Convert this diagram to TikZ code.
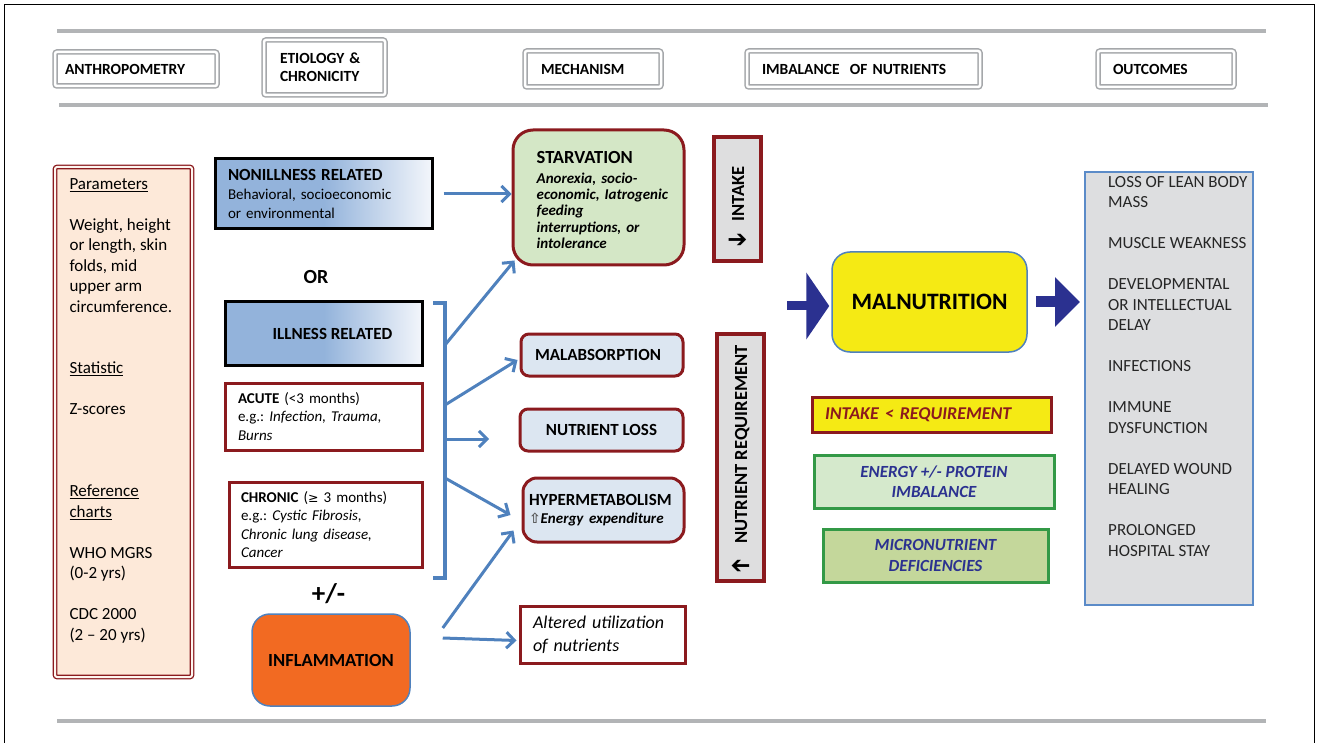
\documentclass[tikz,border=0pt]{standalone}
\usepackage{fontspec}
\setmainfont{Carlito}
\newfontfamily\symfont{DejaVu Sans}
\usetikzlibrary{arrows.meta, positioning}
\frenchspacing

\definecolor{rulegray}{HTML}{B2B4B6}
\definecolor{hdrgray}{HTML}{A5A7AA}
\definecolor{dkred}{HTML}{8B1A1E}
\definecolor{peach}{HTML}{FDE9D9}
\definecolor{arrblue}{HTML}{4F81BD}
\definecolor{gradblue}{HTML}{93B3DB}
\definecolor{fadeend}{HTML}{F3F6FB}
\definecolor{starvgreen}{HTML}{D4E7C6}
\definecolor{paleblue}{HTML}{DCE6F1}
\definecolor{boxgray}{HTML}{DEDEDF}
\definecolor{orng}{HTML}{F26A22}
\definecolor{yllw}{HTML}{F5EA14}
\definecolor{navy}{HTML}{2B3190}
\definecolor{grnline}{HTML}{339946}
\definecolor{grnfill}{HTML}{D5E9CC}
\definecolor{olive}{HTML}{C4D79B}
\definecolor{outgray}{HTML}{DDDEE0}
\definecolor{outblue}{HTML}{5B8BC8}
\definecolor{outtext}{HTML}{262626}

\newcommand{\fsz}[2]{\fontsize{#1}{#2}\selectfont}
\pgfdeclarehorizontalshading{bluefade}{100bp}{color(0bp)=(gradblue); color(50bp)=(gradblue); color(75bp)=(fadeend); color(100bp)=(fadeend)}

\begin{document}
\begin{tikzpicture}[x=1pt, y=-1pt,
    rule/.style={rulegray, line width=4pt},
    hdrbox/.style={draw=hdrgray, double=white, line width=1.5pt, double distance=2.5pt,
        rounded corners=2pt, font=\bfseries\fsz{15.5}{18}, align=left},
    blkbox/.style={draw=black, line width=3pt, shading=bluefade},
    redbox/.style={draw=dkred, line width=3pt},
    grnbox/.style={draw=grnline, line width=3pt, text=navy, align=center,
        font=\bfseries\itshape\fsz{17}{20.5}},
    blarrow/.style={arrblue, line width=3pt, -{Straight Barb[length=8pt, width=16pt]}},
    bigarrow/.style={navy, -{Triangle[length=23pt, width=66pt]}}]

%\draw[xstep=50,ystep=50,color=gray!30] (0,0) grid (1317,743);
\useasboundingbox (0,0) rectangle (1317,743);
\draw[black, line width=1pt] (4,745) -- (4,5) -- (1314,5) -- (1314,745);

    \foreach \y/\xa/\xb in {31/57/1266, 105/59/1268, 721/57/1266}
        \draw[rule] (\xa,\y) -- (\xb,\y);

% column headers
\node[hdrbox, minimum width=162pt, minimum height=34pt, text width=142pt] (anthro) at (136,69) {ANTHROPOMETRY};
\node[hdrbox, minimum width=121pt, minimum height=55pt, text width=89pt] (etio) at (324.5,67.5) {ETIOLOGY \&\\ CHRONICITY};
\node[hdrbox, minimum width=136pt, minimum height=36pt, text width=104pt] (mech) at (593,69) {MECHANISM};
\node[hdrbox, minimum width=233pt, minimum height=36pt, text width=203pt] (imbal) at (863.5,69) {IMBALANCE\ \ OF NUTRIENTS};
\node[hdrbox, minimum width=136pt, minimum height=36pt, text width=106pt] (outhdr) at (1166,69) {OUTCOMES};

% anthropometry
\node[draw=dkred, double=peach!40!white, line width=1.3pt, double distance=2pt, fill=peach,
    rounded corners=2pt, minimum width=137pt, minimum height=510pt] (param) at (123.5,422) {};
\node[anchor=north west, align=left, inner sep=0pt, font=\fsz{17}{20.5}] (paramtxt)
    at ([xshift=15pt, yshift=-12pt]param.north west)
    {\underline{Parameters}\\[20.5pt] Weight, height\\ or length, skin\\ folds, mid\\ upper arm\\ circumference.\\[41pt]
     \underline{Statistic}\\[20.5pt] Z-scores\\[61.5pt] \underline{Reference}\\ \underline{charts}\\[20.5pt]
     WHO MGRS\\ (0-2 yrs)\\[20.5pt] CDC 2000\\ (2 -- 20 yrs)};

% etiology
\node[blkbox, minimum width=217pt, minimum height=70pt, text width=191pt, align=left, font=\fsz{15}{18.5}] (nonill)
    at (323.5,194) {{\bfseries\fsz{17}{18.5}NONILLNESS RELATED}\\[0.5pt] Behavioral, socioeconomic\\ or environmental};
\node[font=\bfseries\fsz{20}{22}] (ortxt) at (316,277) {OR};
\node[blkbox, minimum width=197pt, minimum height=63pt, font=\bfseries\fsz{17}{19}] (illrel) at (323.5,333.5) {\hspace{18pt}ILLNESS RELATED};
\node[redbox, fill=white, minimum width=197pt, minimum height=67pt, text width=171pt, align=left, font=\fsz{15}{18.5}] (acute)
    at (323.5,416.5) {\textbf{ACUTE} (<3 months)\\ e.g.: \textit{Infection, Trauma,}\\ \textit{Burns}};
\node[redbox, fill=white, minimum width=193pt, minimum height=85pt, text width=169pt, align=left, font=\fsz{15}{18.5}] (chronic)
    at (325.5,524.5) {\textbf{CHRONIC} ({\symfont\fsz{12.5}{18.5}≥} 3 months)\\ e.g.: \textit{Cystic Fibrosis,}\\ \textit{Chronic lung disease,}\\ \textit{Cancer}};
\node[font=\bfseries\fsz{27}{30}] (pmtxt) at (328.5,594) {+/-};
\node[draw=arrblue, line width=1.5pt, fill=orng, rounded corners=18pt, minimum width=158pt, minimum height=92pt,
    font=\bfseries\fsz{18.5}{20}] (inflam) at (331,660) {INFLAMMATION};

\coordinate (brtop) at (445,303);
\coordinate (brbot) at (445,578);
\draw[arrblue, line width=4pt] ([xshift=-12pt]brtop) -- (brtop) -- (brbot) -- ([xshift=-12pt]brbot);
\coordinate (br1) at (445,345);
\coordinate (br2) at (445,405);
\coordinate (br3) at (445,439);
\coordinate (br4) at (445,478);
\coordinate (lossend) at (489,439);

% mechanism
\node[redbox, fill=starvgreen, rounded corners=20pt, minimum width=171pt, minimum height=135pt] (starv) at (598.5,197.5) {};
\node[anchor=west, text width=140pt, align=left, inner sep=0pt, font=\bfseries\itshape\fsz{15}{16.4}] (starvtxt)
    at ([xshift=25pt, yshift=-2.5pt]starv.west)
    {{\upshape\fsz{18.5}{20}STARVATION}\\[3.5pt] Anorexia, socio-\\ economic, Iatrogenic\\ feeding\\ interruptions, or\\ intolerance};
\node[redbox, fill=paleblue, rounded corners=8pt, minimum width=162pt, minimum height=42pt, text width=134pt, align=left,
    font=\bfseries\fsz{17}{19}] (malab) at (602,355) {MALABSORPTION};
\node[redbox, fill=paleblue, rounded corners=8pt, minimum width=163pt, minimum height=42pt,
    font=\bfseries\fsz{17}{19}] (nloss) at (601.5,430) {NUTRIENT LOSS};
\node[redbox, fill=paleblue, rounded corners=14pt, minimum width=161pt, minimum height=64pt, text width=149pt, align=left,
    font=\bfseries\fsz{17}{18}] (hyper) at (603.5,510)
    {HYPERMETABOLISM\\ {\itshape\fsz{15}{18}\textcolor{black!65}{\symfont\bfseries\fsz{14}{18}⇧}Energy expenditure}};
\node[redbox, fill=white, minimum width=165pt, minimum height=57pt, text width=139pt, align=left,
    font=\itshape\fsz{18}{23}] (alter) at (602.5,634.5) {Altered utilization\\ of nutrients};

\node[draw=dkred, line width=4pt, fill=boxgray, minimum width=47pt, minimum height=124pt] (intake) at (737.5,199) {};
\node[rotate=90, font=\bfseries\fsz{18.5}{20}] (intaketxt) at ([yshift=-8pt]intake.center)
    {{\symfont\fsz{24}{24}\rotatebox[origin=c]{-90}{➔}}\hspace{13pt}INTAKE};
\node[draw=dkred, line width=4pt, fill=boxgray, minimum width=47pt, minimum height=247pt] (nreq) at (740.5,457.5) {};
\node[rotate=90, font=\bfseries\fsz{18.5}{20}] (nreqtxt) at ([yshift=-1pt]nreq.center)
    {{\symfont\fsz{24}{24}\rotatebox[origin=c]{90}{➔}}\hspace{15pt}NUTRIENT REQUIREMENT};

\draw[blarrow] ([xshift=10pt]nonill.east) -- (nonill.east -| starv.west);
\draw[blarrow] (br1) -- ([xshift=3pt, yshift=6pt]starv.south west);
\draw[blarrow] (br2) -- ([xshift=-2pt, yshift=-5pt]malab.west);
\draw[blarrow] (br3) -- (lossend);
\draw[blarrow] (br4) -- ([xshift=-11pt, yshift=-5pt]hyper.west);
\draw[blarrow] ([xshift=32pt, yshift=32pt]inflam.east) -- ([xshift=-8pt, yshift=13pt]hyper.south west);
\draw[blarrow] ([xshift=32pt, yshift=22pt]inflam.east) -- ([xshift=-2pt, yshift=-6pt]alter.west);

% imbalance of nutrients
\node[draw=arrblue, line width=1.5pt, fill=yllw, rounded corners=18pt, minimum width=195pt, minimum height=100pt,
    font=\bfseries\fsz{23.5}{26}] (maln) at (929.5,302) {MALNUTRITION};
\node[redbox, fill=yllw, minimum width=239pt, minimum height=35pt, text width=213pt, align=left, text=dkred,
    font=\bfseries\itshape\fsz{18}{20}] (inreq) at (931.5,414.5) {INTAKE < REQUIREMENT};
\node[grnbox, fill=grnfill, minimum width=240pt, minimum height=53pt] (energy) at (934,481.5) {ENERGY +/- PROTEIN\\ IMBALANCE};
\node[grnbox, fill=olive, minimum width=225pt, minimum height=53pt] (micro) at (935.5,555.5) {MICRONUTRIENT\\ DEFICIENCIES};

% outcomes
\node[draw=outblue, line width=2pt, fill=outgray, minimum width=168pt, minimum height=433pt] (outc) at (1169,388.5) {};
\node[anchor=north west, align=left, inner sep=0pt, text=outtext, font=\fsz{17}{20.5}] (outtxt)
    at ([xshift=24pt, yshift=-5pt]outc.north west)
    {LOSS OF LEAN BODY\\ MASS\\[20.5pt] MUSCLE WEAKNESS\\[20.5pt] DEVELOPMENTAL\\ OR INTELLECTUAL\\ DELAY\\[20.5pt]
     INFECTIONS\\[20.5pt] IMMUNE\\ DYSFUNCTION\\[20.5pt] DELAYED WOUND\\ HEALING\\[20.5pt] PROLONGED\\ HOSPITAL STAY};

\coordinate (inarr) at (787,306);
\coordinate (outin) at (outc.west |- maln.east);
\draw[bigarrow, line width=9pt] (inarr) -- ([xshift=-2pt, yshift=-4pt]maln.west);
\draw[bigarrow, line width=11pt, -{Triangle[length=25pt, width=48pt]}] ([xshift=8pt]maln.east) -- ([xshift=-4pt]outin);

\end{tikzpicture}
\end{document}
